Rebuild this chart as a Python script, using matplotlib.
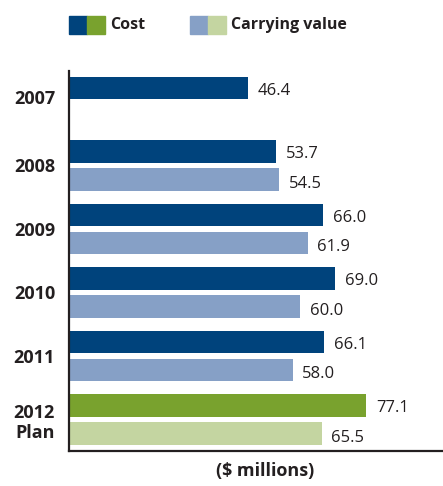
import matplotlib
matplotlib.use("Agg")
import matplotlib.pyplot as plt
from matplotlib.patches import Rectangle
import numpy as np

plt.rcParams["font.family"] = ["Open Sans", "DejaVu Sans"]

YEARS = ["2007", "2008", "2009", "2010", "2011", "2012\nPlan"]
COST = [46.4, 53.7, 66.0, 69.0, 66.1, 77.1]
CARRYING = [np.nan, 54.5, 61.9, 60.0, 58.0, 65.5]

DARK_BLUE = "#00437c"
LIGHT_BLUE = "#86a0c6"
GREEN = "#79a22e"
LIGHT_GREEN = "#c4d5a1"
TEXT = "#231f20"

W, H = 443, 486
fig = plt.figure(figsize=(W / 100, H / 100), dpi=100)
ax = fig.add_axes([69 / W, 35 / H, 1 - 69 / W, 380 / H])

g = np.arange(len(YEARS))
bar_h = 0.35
gap = 0.44
cost_colors = [DARK_BLUE] * (len(YEARS) - 1) + [GREEN]
carry_colors = [LIGHT_BLUE] * (len(YEARS) - 1) + [LIGHT_GREEN]

ax.barh(g, COST, height=bar_h, color=cost_colors)
ax.barh(g + gap, CARRYING, height=bar_h, color=carry_colors)

for yi, v in zip(g, COST):
    ax.annotate(f"{v:.1f}", (v, yi), xytext=(7, -2), textcoords="offset points",
                ha="left", va="center", fontsize=12, color=TEXT)
for yi, v in zip(g + gap, CARRYING):
    if np.isnan(v):
        continue
    ax.annotate(f"{v:.1f}", (v, yi), xytext=(7, -3), textcoords="offset points",
                ha="left", va="center", fontsize=12, color=TEXT)

ax.set_xlim(0, 97)
ax.set_ylim(len(YEARS) - 1 + gap + 0.276, -0.268)

label_pos = [0.14] + [gi + 0.22 for gi in g[1:]]
ax.set_yticks(label_pos)
ax.set_yticklabels(YEARS, fontsize=13, fontweight="bold", color=TEXT)
ax.tick_params(axis="y", length=0, pad=10)
ax.set_xticks([])

for side in ("top", "right"):
    ax.spines[side].set_visible(False)
for side in ("left", "bottom"):
    ax.spines[side].set_color(TEXT)
    ax.spines[side].set_linewidth(1.6)

# legend swatches
def swatch(x, color):
    fig.patches.append(Rectangle((x / W, 1 - 34 / H), 18 / W, 18 / H,
                                 transform=fig.transFigure, color=color))

swatch(69, DARK_BLUE)
swatch(87, GREEN)
swatch(190, LIGHT_BLUE)
swatch(208, LIGHT_GREEN)
fig.text(110 / W, 1 - 25 / H, "Cost", fontsize=11.5, fontweight="bold",
         color=TEXT, va="center")
fig.text(231 / W, 1 - 25 / H, "Carrying value", fontsize=11.5, fontweight="bold",
         color=TEXT, va="center")

fig.text(265 / W, 15 / H, "($ millions)", fontsize=13, fontweight="bold",
         color=TEXT, ha="center", va="center")

fig.savefig("out.png", dpi=100)
